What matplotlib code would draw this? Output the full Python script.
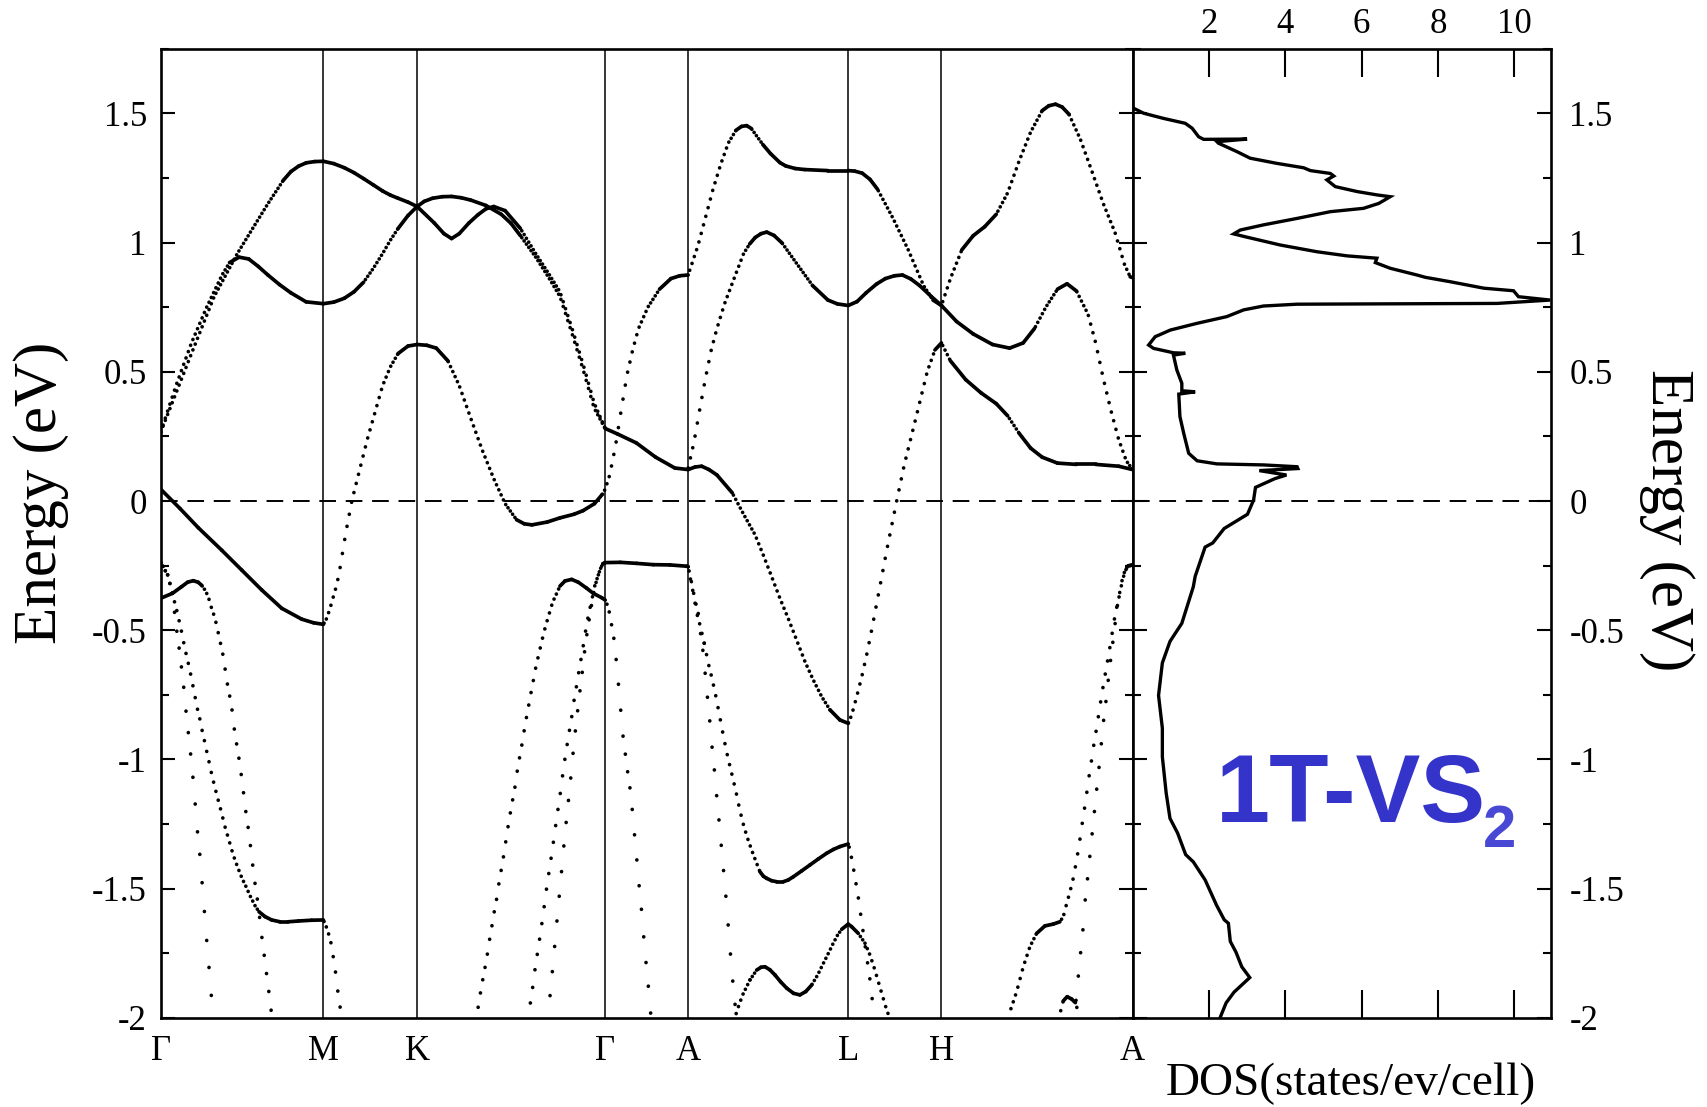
import numpy as np
import matplotlib
matplotlib.use("Agg")
import matplotlib.pyplot as plt
from matplotlib.collections import LineCollection
from matplotlib.ticker import MultipleLocator

plt.rcParams['font.family'] = ['Liberation Serif', 'DejaVu Serif']
plt.rcParams['axes.unicode_minus'] = False
plt.rcParams['lines.scale_dashes'] = False

# ---------------------------------------------------------------- data
kpath_labels = ['Γ', 'M', 'K', 'Γ', 'A', 'L', 'H', 'A']
kpath_pos = [0.0, 1.0, 1.576, 2.732, 3.242, 4.226, 4.799, 5.974]

energy_ticks = [-2.0, -1.5, -1.0, -0.5, 0.0, 0.5, 1.0, 1.5]
energy_tick_labels = ['-2', '-1.5', '-1', '-0.5', '0', '0.5', '1', '1.5']
dos_ticks = [2, 4, 6, 8, 10]
dos_tick_labels = ['2', '4', '6', '8', '10']

# band energies (k along path, E in eV)
band_u1 = [
    [0.000, 0.267], [0.094, 0.418], [0.189, 0.571], [0.329, 0.792], [0.471, 0.958],
    [0.565, 1.055], [0.659, 1.151], [0.753, 1.241], [0.800, 1.275], [0.847, 1.296],
    [0.894, 1.309], [0.947, 1.314], [1.000, 1.315], [1.064, 1.306], [1.129, 1.290],
    [1.188, 1.271], [1.247, 1.248], [1.306, 1.224], [1.364, 1.200], [1.412, 1.184],
    [1.459, 1.172], [1.520, 1.157], [1.576, 1.140], [1.682, 1.076], [1.741, 1.035],
    [1.788, 1.016], [1.835, 1.035], [1.894, 1.076], [1.950, 1.108], [1.999, 1.131],
    [2.047, 1.140], [2.117, 1.124], [2.211, 1.055], [2.305, 0.958], [2.380, 0.885],
    [2.454, 0.810], [2.525, 0.675], [2.596, 0.530], [2.664, 0.380], [2.732, 0.281],
    [2.807, 0.260], [2.924, 0.225], [3.042, 0.170], [3.160, 0.128], [3.242, 0.122],
    [3.285, 0.132], [3.325, 0.135], [3.370, 0.122], [3.419, 0.101], [3.513, 0.032],
    [3.583, -0.051], [3.653, -0.130], [3.704, -0.209], [3.755, -0.292], [3.806, -0.376],
    [3.857, -0.454], [3.909, -0.538], [3.960, -0.621], [4.011, -0.692], [4.063, -0.757],
    [4.114, -0.808], [4.175, -0.847], [4.226, -0.860], [4.247, -0.828], [4.278, -0.757],
    [4.309, -0.680], [4.339, -0.596], [4.370, -0.499], [4.401, -0.396], [4.432, -0.293],
    [4.463, -0.189], [4.525, 0.004], [4.571, 0.142], [4.642, 0.322], [4.712, 0.502],
    [4.759, 0.585], [4.799, 0.612], [4.854, 0.543], [4.948, 0.470], [5.042, 0.419],
    [5.136, 0.377], [5.206, 0.330], [5.277, 0.262], [5.347, 0.205], [5.418, 0.170],
    [5.512, 0.147], [5.629, 0.142], [5.747, 0.142], [5.888, 0.135], [5.974, 0.122],
]
band_u2 = [
    [0.000, 0.267], [0.094, 0.447], [0.189, 0.612], [0.283, 0.751], [0.377, 0.875],
    [0.423, 0.923], [0.482, 0.944], [0.541, 0.937], [0.600, 0.908], [0.659, 0.875],
    [0.730, 0.838], [0.800, 0.806], [0.894, 0.771], [1.000, 0.764], [1.064, 0.770],
    [1.129, 0.785], [1.188, 0.810], [1.247, 0.847], [1.306, 0.900], [1.364, 0.958],
    [1.412, 1.010], [1.459, 1.055], [1.520, 1.105], [1.576, 1.140], [1.620, 1.160],
    [1.671, 1.172], [1.730, 1.178], [1.788, 1.179], [1.847, 1.174], [1.905, 1.165],
    [1.999, 1.144], [2.093, 1.110], [2.153, 1.075], [2.211, 1.027], [2.305, 0.944],
    [2.380, 0.870], [2.454, 0.792], [2.525, 0.655], [2.596, 0.510], [2.664, 0.360],
    [2.732, 0.281],
]
band_b = [
    [0.000, 0.046], [0.119, -0.029], [0.231, -0.103], [0.375, -0.190], [0.498, -0.267],
    [0.621, -0.344], [0.744, -0.415], [0.867, -0.457], [0.940, -0.471], [1.000, -0.477],
    [1.020, -0.454], [1.041, -0.415], [1.061, -0.370], [1.082, -0.325], [1.102, -0.260],
    [1.122, -0.183], [1.139, -0.118], [1.176, 0.004], [1.270, 0.239], [1.364, 0.447],
    [1.412, 0.520], [1.459, 0.571], [1.520, 0.600], [1.576, 0.606], [1.635, 0.603],
    [1.694, 0.592], [1.765, 0.543], [1.835, 0.447], [1.905, 0.322], [1.976, 0.198],
    [2.047, 0.087], [2.117, -0.010], [2.187, -0.072], [2.235, -0.088], [2.282, -0.092],
    [2.376, -0.081], [2.454, -0.065], [2.540, -0.051], [2.596, -0.037], [2.666, -0.010],
    [2.713, 0.025], [2.732, 0.046], [2.760, 0.101], [2.795, 0.212], [2.830, 0.350],
    [2.866, 0.488], [2.901, 0.585], [2.937, 0.668], [2.995, 0.751], [3.066, 0.820],
    [3.136, 0.861], [3.190, 0.872], [3.242, 0.875], [3.301, 0.986], [3.348, 1.096],
    [3.395, 1.207], [3.442, 1.303], [3.489, 1.386], [3.536, 1.435], [3.570, 1.450],
    [3.602, 1.453], [3.630, 1.442], [3.654, 1.421], [3.701, 1.380], [3.748, 1.345],
    [3.806, 1.310], [3.842, 1.297], [3.900, 1.287], [3.959, 1.283], [4.101, 1.279],
    [4.226, 1.279], [4.266, 1.277], [4.312, 1.269], [4.360, 1.245], [4.406, 1.207],
    [4.500, 1.096], [4.595, 0.972], [4.689, 0.834], [4.747, 0.778], [4.799, 0.757],
    [4.854, 0.861], [4.924, 0.972], [4.994, 1.027], [5.065, 1.062], [5.136, 1.110],
    [5.206, 1.193], [5.277, 1.317], [5.347, 1.428], [5.418, 1.511], [5.459, 1.530],
    [5.500, 1.536], [5.541, 1.525], [5.583, 1.497], [5.653, 1.400], [5.724, 1.276],
    [5.794, 1.151], [5.865, 1.041], [5.924, 0.916], [5.959, 0.868], [5.974, 0.865],
]
band_d = [
    [3.242, 0.128], [3.277, 0.225], [3.312, 0.350], [3.348, 0.474], [3.384, 0.585],
    [3.419, 0.668], [3.466, 0.764], [3.524, 0.861], [3.583, 0.958], [3.620, 0.995],
    [3.654, 1.020], [3.690, 1.035], [3.725, 1.041], [3.770, 1.028], [3.819, 0.999],
    [3.913, 0.916], [4.007, 0.834], [4.101, 0.778], [4.160, 0.763], [4.226, 0.757],
    [4.280, 0.772], [4.336, 0.806], [4.400, 0.840], [4.454, 0.861], [4.510, 0.872],
    [4.559, 0.875], [4.610, 0.860], [4.665, 0.834], [4.736, 0.792], [4.799, 0.757],
    [4.892, 0.695], [4.994, 0.647], [5.113, 0.606], [5.218, 0.592], [5.301, 0.612],
    [5.371, 0.668], [5.441, 0.751], [5.512, 0.820], [5.571, 0.841], [5.629, 0.813],
    [5.700, 0.723], [5.747, 0.612], [5.794, 0.474], [5.841, 0.350], [5.888, 0.239],
    [5.935, 0.156], [5.974, 0.122],
]
band_l1a = [
    [0.000, -0.238], [0.010, -0.247], [0.026, -0.267], [0.043, -0.286], [0.051, -0.308],
    [0.063, -0.331], [0.071, -0.357], [0.077, -0.389], [0.088, -0.447], [0.098, -0.499],
    [0.112, -0.563], [0.125, -0.630], [0.139, -0.703], [0.149, -0.776], [0.163, -0.855],
    [0.176, -0.935], [0.191, -1.019], [0.203, -1.105], [0.215, -1.194], [0.227, -1.286],
    [0.242, -1.377], [0.254, -1.473], [0.266, -1.567], [0.278, -1.664], [0.291, -1.763],
    [0.305, -1.862], [0.317, -1.963], [0.323, -2.010],
]
band_l1b = [
    [0.000, -0.238], [0.010, -0.247], [0.026, -0.267], [0.043, -0.286], [0.051, -0.308],
    [0.063, -0.331], [0.071, -0.357], [0.085, -0.390], [0.098, -0.421], [0.125, -0.496],
    [0.149, -0.572], [0.164, -0.612], [0.178, -0.651], [0.191, -0.692], [0.203, -0.731],
    [0.215, -0.770], [0.227, -0.808], [0.242, -0.847], [0.254, -0.886], [0.268, -0.925],
    [0.280, -0.961], [0.293, -0.997], [0.305, -1.033], [0.317, -1.067], [0.344, -1.135],
    [0.371, -1.199], [0.395, -1.260], [0.422, -1.318], [0.446, -1.370], [0.473, -1.417],
    [0.500, -1.460], [0.529, -1.498], [0.545, -1.522], [0.580, -1.566], [0.604, -1.589],
    [0.641, -1.608], [0.682, -1.621], [0.733, -1.628], [0.784, -1.628], [0.846, -1.625],
    [0.928, -1.622], [1.000, -1.621], [1.020, -1.651], [1.034, -1.679], [1.047, -1.711],
    [1.057, -1.750], [1.067, -1.789], [1.077, -1.834], [1.085, -1.882], [1.098, -1.933],
    [1.108, -1.986], [1.114, -2.020],
]
band_l2 = [
    [0.000, -0.376], [0.072, -0.357], [0.129, -0.331], [0.165, -0.314], [0.200, -0.308],
    [0.230, -0.314], [0.252, -0.326], [0.272, -0.344], [0.293, -0.370], [0.303, -0.396],
    [0.334, -0.454], [0.358, -0.522], [0.385, -0.602], [0.406, -0.695], [0.422, -0.747],
    [0.436, -0.796], [0.446, -0.850], [0.457, -0.905], [0.473, -0.963], [0.487, -1.021],
    [0.498, -1.073], [0.512, -1.144], [0.524, -1.206], [0.538, -1.266], [0.551, -1.331],
    [0.563, -1.395], [0.575, -1.460], [0.590, -1.522], [0.604, -1.589], [0.615, -1.651],
    [0.627, -1.715], [0.641, -1.780], [0.653, -1.842], [0.666, -1.905], [0.678, -1.967],
    [0.690, -2.030],
]
band_l2p = [
    [1.937, -2.020], [1.940, -1.998], [1.956, -1.942], [1.970, -1.884], [1.987, -1.827],
    [2.004, -1.769], [2.018, -1.710], [2.034, -1.651], [2.050, -1.590], [2.067, -1.532],
    [2.081, -1.470], [2.098, -1.410], [2.114, -1.349], [2.128, -1.287], [2.144, -1.225],
    [2.161, -1.164], [2.178, -1.105], [2.192, -1.043], [2.208, -0.985], [2.225, -0.926],
    [2.239, -0.868], [2.256, -0.811], [2.272, -0.755], [2.288, -0.703], [2.302, -0.654],
    [2.319, -0.606], [2.336, -0.560], [2.352, -0.517], [2.368, -0.478], [2.385, -0.443],
    [2.399, -0.411], [2.415, -0.383], [2.434, -0.357], [2.454, -0.329], [2.485, -0.309],
    [2.526, -0.303], [2.567, -0.314], [2.618, -0.337], [2.659, -0.357], [2.711, -0.374],
    [2.732, -0.383], [2.754, -0.415], [2.763, -0.457], [2.774, -0.486], [2.782, -0.512],
    [2.792, -0.570], [2.803, -0.634], [2.813, -0.705], [2.823, -0.776], [2.833, -0.847],
    [2.843, -0.918], [2.858, -0.989], [2.870, -1.047], [2.880, -1.086], [2.895, -1.170],
    [2.907, -1.253], [2.919, -1.337], [2.932, -1.425], [2.944, -1.512], [2.958, -1.599],
    [2.969, -1.686], [2.981, -1.772], [2.995, -1.860], [3.007, -1.950], [3.017, -2.020],
]
band_kb = [
    [2.258, -2.020], [2.272, -1.943], [2.288, -1.875], [2.302, -1.806], [2.319, -1.736],
    [2.336, -1.665], [2.352, -1.595], [2.366, -1.524], [2.382, -1.455], [2.399, -1.384],
    [2.415, -1.314], [2.430, -1.245], [2.446, -1.175], [2.462, -1.105], [2.475, -1.038],
    [2.491, -0.971], [2.508, -0.904], [2.526, -0.837], [2.540, -0.774], [2.557, -0.711],
    [2.573, -0.649], [2.590, -0.589], [2.604, -0.533], [2.618, -0.477], [2.634, -0.427],
    [2.649, -0.385], [2.669, -0.325], [2.686, -0.293], [2.702, -0.263], [2.717, -0.243],
    [2.732, -0.238], [2.825, -0.237], [2.926, -0.241], [3.028, -0.246], [3.130, -0.247],
    [3.233, -0.252], [3.242, -0.254], [3.264, -0.318], [3.284, -0.383], [3.304, -0.434],
    [3.315, -0.499], [3.329, -0.557], [3.341, -0.628], [3.352, -0.703], [3.364, -0.780],
    [3.376, -0.858], [3.387, -0.940], [3.401, -1.025], [3.413, -1.111], [3.426, -1.199],
    [3.440, -1.289], [3.452, -1.382], [3.467, -1.475], [3.479, -1.570], [3.491, -1.664],
    [3.503, -1.760], [3.516, -1.856], [3.530, -1.944], [3.538, -2.020],
]
band_kc = [
    [2.379, -2.020], [2.382, -1.984], [2.399, -1.877], [2.415, -1.769], [2.430, -1.663],
    [2.446, -1.554], [2.462, -1.447], [2.477, -1.341], [2.493, -1.238], [2.510, -1.136],
    [2.526, -1.037], [2.540, -0.937], [2.557, -0.844], [2.573, -0.754], [2.590, -0.669],
    [2.604, -0.589], [2.620, -0.514], [2.637, -0.445], [2.654, -0.380], [2.669, -0.330],
    [2.686, -0.293], [2.702, -0.263], [2.717, -0.243], [2.732, -0.238],
]
band_a2 = [
    [3.242, -0.254], [3.253, -0.292], [3.274, -0.357], [3.295, -0.434], [3.315, -0.480],
    [3.341, -0.550], [3.366, -0.628], [3.390, -0.690], [3.414, -0.760], [3.438, -0.840],
    [3.462, -0.920], [3.487, -0.995], [3.512, -1.060], [3.536, -1.125], [3.561, -1.200],
    [3.585, -1.260], [3.610, -1.310], [3.635, -1.355], [3.659, -1.395], [3.683, -1.434],
    [3.705, -1.452], [3.725, -1.460], [3.755, -1.469], [3.786, -1.473], [3.827, -1.473],
    [3.858, -1.466], [3.888, -1.454], [3.940, -1.431], [3.991, -1.408], [4.042, -1.385],
    [4.093, -1.363], [4.135, -1.348], [4.175, -1.337], [4.226, -1.327], [4.237, -1.350],
    [4.253, -1.402], [4.267, -1.455], [4.282, -1.510], [4.294, -1.560], [4.309, -1.630],
    [4.323, -1.690], [4.339, -1.763], [4.353, -1.821], [4.364, -1.873], [4.374, -1.931],
    [4.382, -1.982], [4.384, -2.020],
]
band_wave = [
    [3.523, -2.020], [3.540, -1.976], [3.577, -1.911], [3.622, -1.853], [3.663, -1.815],
    [3.690, -1.804], [3.714, -1.802], [3.745, -1.814], [3.776, -1.834], [3.810, -1.860],
    [3.848, -1.885], [3.890, -1.905], [3.929, -1.911], [3.965, -1.898], [4.001, -1.873],
    [4.037, -1.835], [4.073, -1.789], [4.104, -1.750], [4.134, -1.711], [4.160, -1.680],
    [4.186, -1.657], [4.226, -1.637], [4.247, -1.647], [4.288, -1.673], [4.329, -1.711],
    [4.360, -1.757], [4.390, -1.815], [4.417, -1.873], [4.441, -1.924], [4.462, -1.969],
    [4.478, -1.995], [4.482, -2.020],
]
band_ha_left = [
    [5.212, -2.020], [5.220, -1.976], [5.261, -1.899], [5.302, -1.802], [5.343, -1.724],
    [5.384, -1.673], [5.435, -1.644], [5.486, -1.637], [5.527, -1.628], [5.548, -1.608],
    [5.569, -1.557], [5.589, -1.512], [5.609, -1.460], [5.626, -1.402], [5.642, -1.344],
    [5.657, -1.279], [5.671, -1.219], [5.688, -1.150], [5.701, -1.086], [5.718, -1.019],
    [5.732, -0.957], [5.749, -0.892], [5.765, -0.828], [5.781, -0.763], [5.796, -0.705],
    [5.812, -0.647], [5.830, -0.583], [5.845, -0.525], [5.859, -0.467], [5.875, -0.415],
    [5.891, -0.370], [5.908, -0.318], [5.926, -0.273], [5.946, -0.251], [5.974, -0.247],
]
band_ha_right = [
    [5.612, -2.020], [5.625, -1.940], [5.640, -1.840], [5.655, -1.744], [5.671, -1.644],
    [5.683, -1.541], [5.701, -1.438], [5.717, -1.337], [5.734, -1.234], [5.750, -1.135],
    [5.767, -1.034], [5.782, -0.937], [5.797, -0.841], [5.815, -0.750], [5.829, -0.663],
    [5.845, -0.583], [5.862, -0.499], [5.876, -0.421], [5.892, -0.363], [5.908, -0.310],
    [5.926, -0.270], [5.946, -0.251], [5.974, -0.247],
]
band_ha_bump = [
    [5.518, -2.020], [5.531, -1.975], [5.548, -1.934], [5.572, -1.918], [5.599, -1.927],
    [5.622, -1.941], [5.636, -1.969], [5.642, -2.020],
]

# total density of states
dos_energy = [
    1.750, 1.526, 1.520, 1.501, 1.481, 1.462, 1.443, 1.410, 1.400, 1.401, 1.391, 1.385,
    1.352, 1.327, 1.307, 1.290, 1.279, 1.268, 1.258, 1.243, 1.217, 1.198, 1.185, 1.178,
    1.152, 1.133, 1.120, 1.094, 1.069, 1.049, 1.034, 1.023, 0.991, 0.965, 0.949, 0.940,
    0.923, 0.901, 0.875, 0.866, 0.849, 0.824, 0.814, 0.791, 0.778, 0.765, 0.762, 0.755,
    0.740, 0.714, 0.688, 0.662, 0.636, 0.604, 0.591, 0.574, 0.572, 0.565, 0.507, 0.456,
    0.427, 0.423, 0.414, 0.327, 0.262, 0.185, 0.156, 0.144, 0.140, 0.133, 0.126, 0.118,
    0.101, 0.087, 0.053, 0.004, -0.051, -0.106, -0.162, -0.178, -0.291, -0.332, -0.473,
    -0.543, -0.626, -0.752, -0.879, -0.990, -1.130, -1.228, -1.285, -1.368, -1.396,
    -1.466, -1.564, -1.620, -1.634, -1.704, -1.746, -1.802, -1.844, -1.900, -1.942, -2.000,
]
dos_states = [
    0.00, 0.00, 0.03, 0.29, 0.81, 1.38, 1.56, 1.73, 1.86, 3.00, 2.21, 2.25,
    2.74, 3.08, 3.78, 4.48, 4.66, 5.18, 5.27, 5.09, 5.31, 5.88, 6.40, 6.75,
    6.45, 6.05, 5.18, 4.31, 3.43, 2.82, 2.65, 2.95, 3.87, 4.83, 5.62, 6.40,
    6.36, 6.75, 7.45, 7.67, 8.32, 9.20, 9.98, 10.11, 10.94, 9.55, 4.31, 3.43,
    2.91, 2.47, 1.69, 0.99, 0.59, 0.42, 0.55, 1.07, 1.38, 1.07, 1.16, 1.29,
    1.29, 1.64, 1.21, 1.24, 1.34, 1.47, 1.69, 2.21, 3.43, 4.31, 4.33, 3.32,
    4.03, 3.73, 3.22, 3.17, 3.01, 2.40, 2.10, 1.90, 1.64, 1.59, 1.29,
    0.98, 0.78, 0.68, 0.78, 0.78, 0.88, 0.98, 1.18, 1.39, 1.59,
    1.90, 2.20, 2.40, 2.51, 2.56, 2.71, 2.86, 3.07, 2.66, 2.45, 2.29,
]

bands = [band_u1, band_u2, band_b, band_d, band_l1a, band_l1b, band_l2, band_l2p,
         band_kb, band_kc, band_a2, band_wave, band_ha_left, band_ha_right, band_ha_bump]

# ---------------------------------------------------------------- figure
DPI = 100
fig = plt.figure(figsize=(17.08, 11.07), dpi=DPI)
ax = fig.add_axes([0.09409, 0.08049, 0.56903, 0.87534])
axd = fig.add_axes([0.66311, 0.08049, 0.24514, 0.87534])

E_MIN, E_MAX = -2.0, 1.75
ax.set_xlim(kpath_pos[0], kpath_pos[-1])
ax.set_ylim(E_MIN, E_MAX)
axd.set_xlim(0, 10.97)
axd.set_ylim(E_MIN, E_MAX)

SPINE_LW = 1.9
for a in (ax, axd):
    for s in a.spines.values():
        s.set_linewidth(SPINE_LW)

# high-symmetry lines and Fermi level
for kp in kpath_pos[1:-1]:
    ax.axvline(kp, color='k', lw=1.1, zorder=1)
for a in (ax, axd):
    a.axhline(0.0, color='k', lw=1.4, dashes=(12.0, 7.0), zorder=1)

# bands: one marker per k-point of a uniform mesh; where the band is flat the
# points overlap into a solid line, where it is steep they separate into dots.
K_STEP_PX = 2.3
BAND_LW = 2.65
PX2PT = 72.0 / DPI


def draw_band(axis, pts):
    pts = np.asarray(pts, dtype=float)
    disp = axis.transData.transform(pts)
    x_start = disp[0, 0]
    segs, styles = [], []
    for i in range(len(pts) - 1):
        xa, ya = disp[i]
        xb, yb = disp[i + 1]
        dx = xb - xa
        length = np.hypot(dx, yb - ya)
        if dx <= 0 or length == 0:
            continue
        gap = K_STEP_PX * length / dx
        if gap < 3.8:
            style = 'solid'
        else:
            n = np.ceil((xa - x_start) / K_STEP_PX - 1e-9)
            x_dot = x_start + n * K_STEP_PX
            d0 = (x_dot - xa) * length / dx
            offset = (gap - d0) % gap
            style = (offset * PX2PT, (0.05, gap * PX2PT - 0.05))
        segs.append(pts[i:i + 2])
        styles.append(style)
    lc = LineCollection(segs, colors='k', linewidths=BAND_LW, linestyles=styles,
                        capstyle='round', joinstyle='round', zorder=3)
    axis.add_collection(lc)


for band in bands:
    draw_band(ax, band)

# DOS curve
axd.plot(dos_states, dos_energy, color='k', lw=2.4, solid_joinstyle='miter', zorder=3)

# ticks
TICK_FS = 25
ax.set_yticks(energy_ticks)
ax.set_yticklabels(energy_tick_labels)
ax.yaxis.set_minor_locator(MultipleLocator(0.25))
ax.tick_params(axis='y', which='both', direction='in', left=True, right=True,
               labelleft=True, labelright=False, width=1.5, labelsize=TICK_FS, pad=10)
ax.tick_params(axis='y', which='major', length=10.3)
ax.tick_params(axis='y', which='minor', length=5.5)
ax.set_xticks(kpath_pos)
ax.set_xticklabels(kpath_labels)
ax.tick_params(axis='x', which='both', length=0, labelsize=TICK_FS, pad=12,
               top=False, bottom=True)

axd.set_yticks(energy_ticks)
axd.set_yticklabels(energy_tick_labels)
axd.yaxis.set_minor_locator(MultipleLocator(0.25))
axd.tick_params(axis='y', which='both', direction='in', left=True, right=True,
                labelleft=False, labelright=True, width=1.5, labelsize=TICK_FS, pad=13)
axd.tick_params(axis='y', which='major', length=10.3)
axd.tick_params(axis='y', which='minor', length=5.5)
axd.set_xticks(dos_ticks)
axd.set_xticklabels(dos_tick_labels)
axd.tick_params(axis='x', which='major', direction='in', top=True, bottom=True,
                labeltop=True, labelbottom=False, length=20, width=1.5,
                labelsize=TICK_FS, pad=6)

# axis titles
fig.text(0.024, 0.5547, 'Energy (eV)', rotation=90, ha='center', va='center', fontsize=44)
fig.text(0.976, 0.530, 'Energy (eV)', rotation=270, ha='center', va='center', fontsize=44)
fig.text(0.791, 0.0208, 'DOS(states/ev/cell)', ha='center', va='center', fontsize=34)

# compound label
axd.text(5.71, -1.242, '1T-VS', ha='center', va='baseline', fontsize=70,
         fontweight='bold', family=['Liberation Sans', 'DejaVu Sans'], color='#3434CB')
axd.text(9.17, -1.339, '2', ha='left', va='baseline', fontsize=43,
         fontweight='bold', family=['Liberation Sans', 'DejaVu Sans'], color='#4848D4')

fig.savefig('out.png', dpi=DPI)
